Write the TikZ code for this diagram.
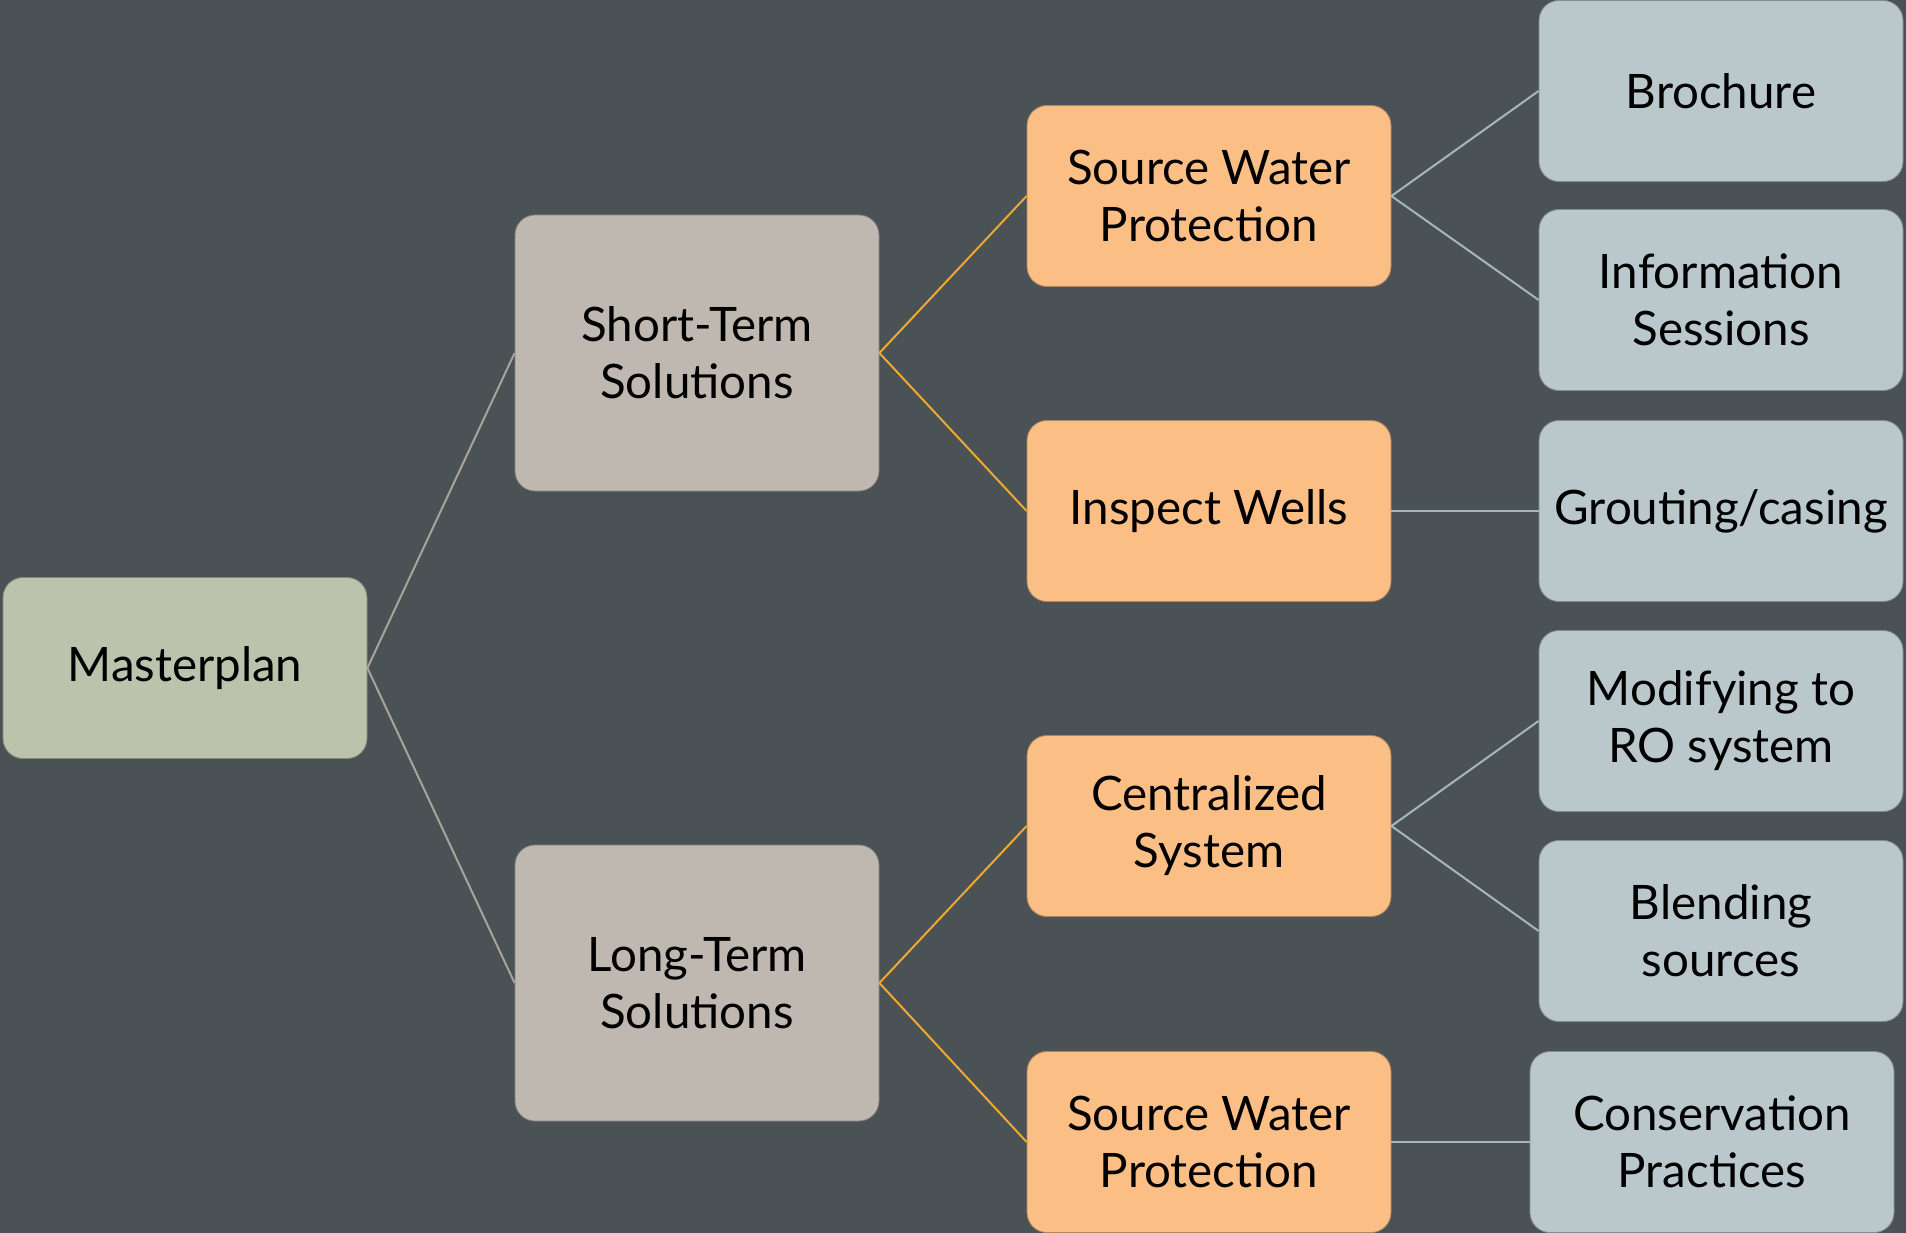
\documentclass[tikz,border=0pt]{standalone}
\usepackage{fontspec}
\setmainfont{Lato}
\begin{document}
\begin{tikzpicture}[x=1pt,y=-1pt,
  box/.style={draw=#1!70!black, line width=0.8pt, rounded corners=20pt, minimum width=364pt, minimum height=181pt, align=center, inner sep=0pt, font=\fontsize{47.5}{57}\selectfont, text=black},
  rootbox/.style={box=rootfill, fill=rootfill},
  midbox/.style={box=midfill, fill=midfill, minimum height=276pt},
  subbox/.style={box=subfill, fill=subfill},
  leafbox/.style={box=leaffill, fill=leaffill},
  rootline/.style={draw=rootline, line width=2pt},
  midline/.style={draw=midline, line width=2pt},
  leafline/.style={draw=leafline, line width=2pt}]
\definecolor{bg}{HTML}{4A5256}
\definecolor{rootfill}{HTML}{BCC3AC}
\definecolor{midfill}{HTML}{BEB8B1}
\definecolor{subfill}{HTML}{FBBF86}
\definecolor{leaffill}{HTML}{BAC8CC}
\definecolor{rootline}{HTML}{A8A49A}
\definecolor{midline}{HTML}{F0A830}
\definecolor{leafline}{HTML}{A4B8BC}
\fill[bg] (0,0) rectangle (1906,1233);
\useasboundingbox (0,0) rectangle (1906,1233);

\node[rootbox] (master) at (185,668) {Masterplan};
\node[midbox] (short) at (697,353) {Short-Term\\Solutions};
\node[midbox] (long) at (697,983) {Long-Term\\Solutions};

\node[subbox] (swp1) at (1209,196) {Source Water\\Protection};
\node[subbox] (wells) at (1209,511) {Inspect Wells};
\node[subbox] (central) at (1209,826) {Centralized\\System};
\node[subbox] (swp2) at (1209,1142) {Source Water\\Protection};

\node[leafbox] (broch) at (1721,91) {Brochure};
\node[leafbox] (info) at (1721,300) {Information\\Sessions};
\node[leafbox] (grout) at (1721,511) {Grouting/casing};
\node[leafbox] (modify) at (1721,721) {Modifying to\\RO system};
\node[leafbox] (blend) at (1721,931) {Blending\\sources};
\node[leafbox] (conserv) at (1712,1142) {Conservation\\Practices};

\draw[rootline] (master.east) -- (short.west);
\draw[rootline] (master.east) -- (long.west);

\draw[midline] (short.east) -- (swp1.west);
\draw[midline] (short.east) -- (wells.west);
\draw[midline] (long.east) -- (central.west);
\draw[midline] (long.east) -- (swp2.west);

\draw[leafline] (swp1.east) -- (broch.west);
\draw[leafline] (swp1.east) -- (info.west);
\draw[leafline] (wells.east) -- (grout.west);
\draw[leafline] (central.east) -- (modify.west);
\draw[leafline] (central.east) -- (blend.west);
\draw[leafline] (swp2.east) -- (conserv.west);
\end{tikzpicture}
\end{document}
